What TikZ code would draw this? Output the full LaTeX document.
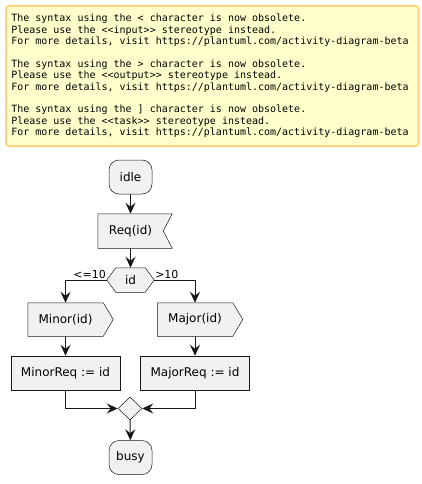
\documentclass[tikz,border=0pt]{standalone}
\usepackage{fontspec}
\setmainfont{DejaVu Sans}
\newfontfamily\notefont{DejaVu Sans Mono}
\usetikzlibrary{calc,arrows.meta,shapes.geometric,backgrounds}
\definecolor{actfill}{HTML}{F1F1F1}
\definecolor{actline}{HTML}{181818}
\definecolor{notefill}{HTML}{FFFFCC}
\definecolor{noteline}{HTML}{FFD27F}

\begin{document}
\begin{tikzpicture}[x=1pt, y=-1pt,
  notebox/.style={anchor=north west, draw=noteline, line width=2pt, fill=notefill, rounded corners=3pt,
    align=flush left, text width=402pt, inner xsep=5.3pt, inner ysep=0pt, minimum height=140pt,
    font=\notefont\fontsize{10}{11.4}\selectfont},
  actbox/.style={draw=actline, line width=0.5pt, fill=actfill, minimum height=34pt, inner sep=0pt,
    font=\fontsize{12}{14}\selectfont},
  actround/.style={actbox, rounded corners=10pt, minimum width=43pt},
  actplain/.style={actbox, draw=none, fill=none},
  actshape/.style={draw=actline, line width=0.5pt, fill=actfill},
  merge/.style={diamond, draw=actline, line width=0.5pt, fill=actfill, minimum width=24pt, minimum height=23pt, inner sep=0pt},
  flow/.style={draw=actline, line width=1pt, -{Stealth[length=11pt,width=10pt,inset=4pt]}},
  lbl/.style={inner sep=0pt, font=\fontsize{11}{13}\selectfont}]
  \useasboundingbox (0,0) rectangle (422,484);

  % warning note
  \node[notebox] (note) at (5,5) {\spaceskip=0pt\xspaceskip=0pt
    The syntax using the <{} character is now obsolete.\\
    Please use the <{}<input>{}> stereotype instead.\\
    For more details, visit https://plantuml.com/activity-diagram-beta\\[11.4pt]
    The syntax using the >{} character is now obsolete.\\
    Please use the <{}<output>{}> stereotype instead.\\
    For more details, visit https://plantuml.com/activity-diagram-beta\\[11.4pt]
    The syntax using the ] character is now obsolete.\\
    Please use the <{}<task>{}> stereotype instead.\\
    For more details, visit https://plantuml.com/activity-diagram-beta};

  % activities
  \node[actround] (idle) at (130.5,177) {idle};
  \node[actplain, minimum width=65pt] (req) at (130.5,231) {Req(id)};
  \node[actplain, minimum width=47pt, minimum height=24pt] (dec) at (130.5,280) {id};
  \node[actplain, minimum width=75pt, minimum height=33pt] (minor) at (65.5,319.5) {Minor(id)};
  \node[actplain, minimum width=75pt, minimum height=33pt] (major) at (195,319.5) {Major(id)};
  \node[actbox, minimum width=109pt] (mreq) at (65.5,373) {MinorReq := id};
  \node[actbox, minimum width=109pt] (jreq) at (195,373) {MajorReq := id};
  \node[merge] (merge) at (130,408.5) {};
  \node[actround] (busy) at (130.5,457.5) {busy};

  % outlines of the signal and decision shapes
  \begin{scope}[on background layer]
    \draw[actshape] (req.north west) -- ($(req.north east)+(9,0)$) -- (req.east)
      -- ($(req.south east)+(9,0)$) -- (req.south west) -- cycle;
    \draw[actshape] (dec.west) -- ($(dec.north west)+(9,0)$) -- ($(dec.north east)+(-9,0)$)
      -- (dec.east) -- ($(dec.south east)+(-9,0)$) -- ($(dec.south west)+(9,0)$) -- cycle;
    \draw[actshape] (minor.north west) -- (minor.north east) -- ($(minor.east)+(10,0)$)
      -- (minor.south east) -- (minor.south west) -- cycle;
    \draw[actshape] (major.north west) -- (major.north east) -- ($(major.east)+(10,0)$)
      -- (major.south east) -- (major.south west) -- cycle;
  \end{scope}

  % flow
  \draw[flow] (idle) -- (req);
  \draw[flow] (req) -- (dec);
  \draw[flow] (dec.west) -| (minor.north) node[lbl, pos=0, anchor=base east, yshift=2pt, xshift=-0.5pt] {<=10};
  \draw[flow] (dec.east) -| (major.north) node[lbl, pos=0, anchor=base west, yshift=2pt, xshift=0.5pt] {>10};
  \draw[flow] (minor) -- (mreq);
  \draw[flow] (major) -- (jreq);
  \draw[flow] (mreq.south) |- (merge.west);
  \draw[flow] (jreq.south) |- (merge.east);
  \draw[flow] (merge) -- (busy);
\end{tikzpicture}
\end{document}
